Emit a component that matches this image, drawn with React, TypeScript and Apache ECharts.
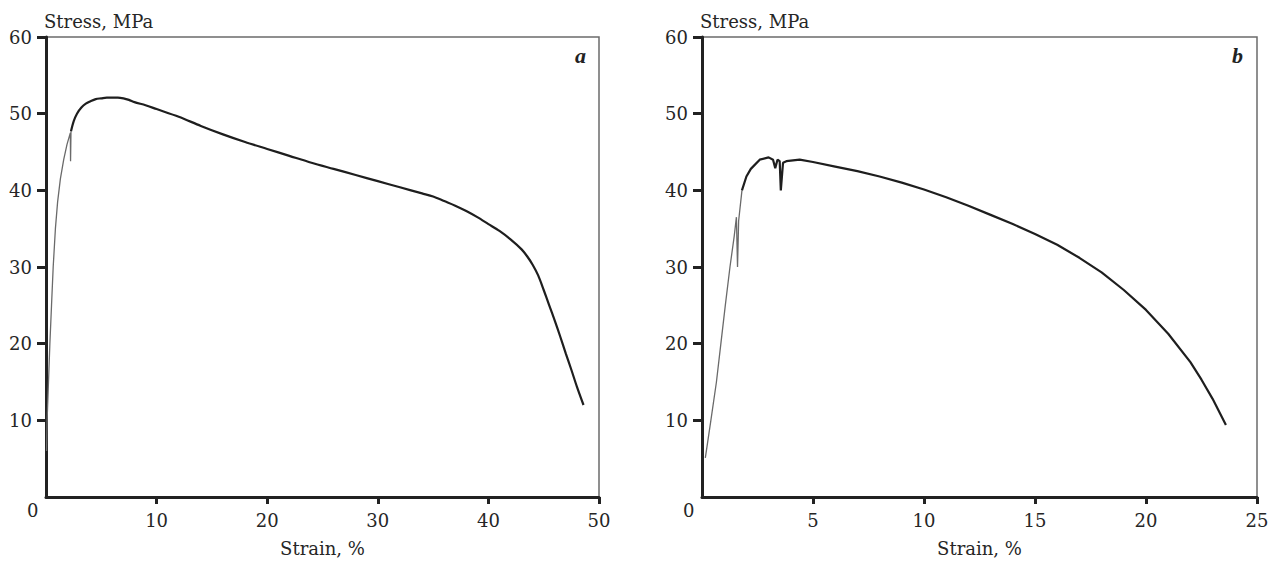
import React, { useEffect, useRef } from "react";
import * as echarts from "echarts";

// Panel a: strain (%) vs stress (MPa)
const leftRise: [number, number][] = [
  [0.05, 6], [0.1, 10], [0.2, 14], [0.35, 20], [0.5, 25], [0.65, 30], [0.85, 35],
  [1.05, 38.5], [1.3, 41.5], [1.6, 44], [1.9, 46], [2.2, 47.5], [2.22, 43.8], [2.26, 47.7],
];
const leftMain: [number, number][] = [
  [2.26, 47.7], [2.5, 49], [2.8, 50], [3.2, 50.8],
  [3.6, 51.3], [4, 51.6], [4.5, 51.9], [5, 52], [5.5, 52.1], [6, 52.1], [6.5, 52.1],
  [7, 52], [7.5, 51.8], [8, 51.5], [9, 51.1], [10, 50.6], [12, 49.6], [14, 48.4],
  [16, 47.3], [18, 46.3], [20, 45.4], [22, 44.5], [24, 43.6], [26, 42.8], [28, 42],
  [30, 41.2], [32, 40.4], [34, 39.6], [35, 39.2], [36, 38.6], [37, 38.0], [38, 37.3],
  [39, 36.5], [40, 35.6], [41, 34.7], [42, 33.6], [43, 32.3], [43.5, 31.4], [44, 30.3],
  [44.5, 28.9], [45, 27.0], [45.5, 25.0], [46, 23.0], [46.5, 20.9], [47, 18.7],
  [47.5, 16.6], [48, 14.4], [48.6, 12.0],
];

// Panel b
const rightRise: [number, number][] = [
  [0.15, 5.1], [0.4, 10], [0.65, 15], [0.85, 20], [1.05, 25], [1.26, 30],
  [1.45, 34], [1.55, 36.5], [1.6, 30], [1.65, 36], [1.8, 40],
];
const rightMain: [number, number][] = [
  [1.8, 40], [2.0, 41.8], [2.2, 42.8], [2.6, 44], [3.0, 44.3], [3.2, 44], [3.3, 42.9],
  [3.4, 44], [3.5, 43.8], [3.55, 40], [3.65, 43.6], [3.8, 43.8], [4.4, 44], [5, 43.7],
  [6, 43.1], [7, 42.5], [8, 41.8], [9, 41], [10, 40.1], [11, 39.1], [12, 38.0],
  [13, 36.8], [14, 35.6], [15, 34.3], [16, 32.9], [17, 31.2], [18, 29.3], [19, 27.0],
  [20, 24.4], [21, 21.3], [22, 17.6], [22.5, 15.3], [23, 12.8], [23.6, 9.4],
];

const yTicks = [10, 20, 30, 40, 50, 60];
const leftXTicks = [10, 20, 30, 40, 50];
const rightXTicks = [5, 10, 15, 20, 25];

const FONT = "DejaVu Serif";
const TEXT = "#262626";

export default function App() {
  const ref = useRef<HTMLDivElement>(null);
  useEffect(() => {
    document.body.style.margin = "0";
    const chart = echarts.init(ref.current!, null, { renderer: "svg" });
    const xAxisBase = (max: number, interval: number, ticks: number[], grid: number) => ({
      type: "value",
      gridIndex: grid,
      min: 0,
      max,
      interval,
      name: "Strain, %",
      nameLocation: "middle",
      nameGap: 42,
      nameTextStyle: { fontFamily: FONT, fontSize: 18, color: TEXT },
      axisLine: { show: true, onZero: false, lineStyle: { color: "#222", width: 3 } },
      axisTick: { show: true, length: 7, customValues: ticks, lineStyle: { color: "#222", width: 3 } },
      axisLabel: { customValues: ticks, margin: 14, fontFamily: FONT, fontSize: 18, color: TEXT },
      splitLine: { show: false },
    });
    const yAxisBase = (grid: number) => ({
      type: "value",
      gridIndex: grid,
      min: 0,
      max: 60,
      interval: 10,
      name: "Stress, MPa",
      nameLocation: "end",
      nameGap: 7,
      nameTextStyle: { fontFamily: FONT, fontSize: 18, color: TEXT, align: "left", padding: [0, 0, 0, -2] },
      axisLine: { show: true, onZero: false, lineStyle: { color: "#222", width: 3 } },
      axisTick: { show: true, length: 9, customValues: yTicks, lineStyle: { color: "#222", width: 3 } },
      axisLabel: { customValues: yTicks, margin: 14, fontFamily: FONT, fontSize: 18, color: TEXT },
      splitLine: { show: false },
    });
    const rise = { color: "#6a6a6a", width: 1.3 };
    const main = { color: "#1e1e1e", width: 2.2 };
    chart.setOption({
      animation: false,
      grid: [
        { left: 46, top: 37, width: 553, height: 460, show: true, borderColor: "#6b6b6b", borderWidth: 1.5 },
        { left: 702, top: 37, width: 555, height: 460, show: true, borderColor: "#6b6b6b", borderWidth: 1.5 },
      ],
      xAxis: [xAxisBase(50, 10, leftXTicks, 0), xAxisBase(25, 5, rightXTicks, 1)],
      yAxis: [yAxisBase(0), yAxisBase(1)],
      series: [
        { type: "line", xAxisIndex: 0, yAxisIndex: 0, data: leftRise, showSymbol: false, lineStyle: rise },
        { type: "line", xAxisIndex: 0, yAxisIndex: 0, data: leftMain, showSymbol: false, smooth: 0.3, lineStyle: main },
        { type: "line", xAxisIndex: 1, yAxisIndex: 1, data: rightRise, showSymbol: false, lineStyle: rise },
        { type: "line", xAxisIndex: 1, yAxisIndex: 1, data: rightMain, showSymbol: false, lineStyle: main },
      ],
      graphic: [
        { type: "text", left: 27, top: 501, style: { text: "0", fontFamily: FONT, fontSize: 18, fill: TEXT } },
        { type: "text", left: 683, top: 501, style: { text: "0", fontFamily: FONT, fontSize: 18, fill: TEXT } },
        { type: "text", left: 575, top: 44, style: { text: "a", fontFamily: "Liberation Serif", fontStyle: "italic", fontWeight: "bold", fontSize: 22, fill: "#222" } },
        { type: "text", left: 1232, top: 44, style: { text: "b", fontFamily: "Liberation Serif", fontStyle: "italic", fontWeight: "bold", fontSize: 22, fill: "#222" } },
      ],
    });
    return () => chart.dispose();
  }, []);
  return <div ref={ref} style={{ width: 1277, height: 562 }} />;
}
